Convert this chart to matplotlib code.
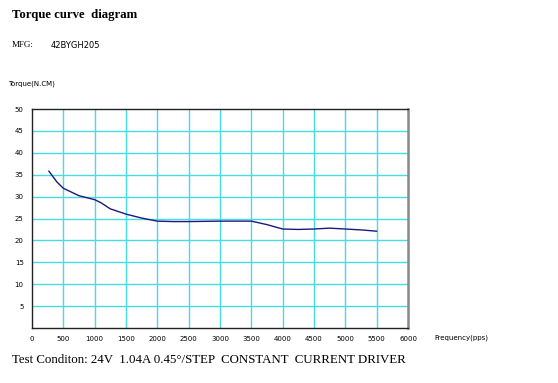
import matplotlib
matplotlib.use("Agg")
import matplotlib.pyplot as plt

freq = [270, 400, 500, 750, 1000, 1100, 1250, 1500, 1750, 2000, 2250, 2500, 3000, 3500, 3750, 4000, 4250, 4500, 4750, 5000, 5250, 5500]
torque = [35.8, 33.3, 31.9, 30.2, 29.3, 28.6, 27.2, 26.0, 25.1, 24.4, 24.3, 24.3, 24.4, 24.4, 23.6, 22.6, 22.5, 22.6, 22.8, 22.6, 22.4, 22.1]
xticks = [0, 500, 1000, 1500, 2000, 2500, 3000, 3500, 4000, 4500, 5000, 5500, 6000]
yticks = [5, 10, 15, 20, 25, 30, 35, 40, 45, 50]

fig = plt.figure(figsize=(5.58, 3.83), dpi=100)
fig.patch.set_facecolor("white")
ax = fig.add_axes([32/558, 1-328/383, 376/558, 219/383])
ax.set_xlim(0, 6000)
ax.set_ylim(0, 50)
for x in xticks[1:-1]:
    ax.axvline(x, color="#45dde3", lw=1.0, zorder=1)
for y in yticks[:-1]:
    ax.axhline(y, color="#45dde3", lw=1.0, zorder=1)
ax.plot(freq, torque, color="#1a1a80", lw=1.0, zorder=3)

ax.set_xticks(xticks)
ax.set_xticklabels([str(v) for v in xticks], fontsize=5, family="DejaVu Sans")
ax.set_yticks(yticks)
ax.set_yticklabels([str(v) for v in yticks], fontsize=5, family="DejaVu Sans")
ax.tick_params(length=0, pad=6)
for s in ["left", "bottom", "top"]:
    ax.spines[s].set_color("#222222")
    ax.spines[s].set_linewidth(1.0)
ax.spines["right"].set_color("#888888")
ax.spines["right"].set_linewidth(1.8)

fig.text(12/558, 1-15/383, "Torque curve  diagram", fontsize=9.2, fontweight="bold",
         family="Liberation Serif", va="center", ha="left")
fig.text(12/558, 1-45/383, "MFG:", fontsize=6.5, family="Liberation Serif", va="center", ha="left")
fig.text(51/558, 1-45/383, "42BYGH205", fontsize=6, family="DejaVu Sans", va="center", ha="left")
fig.text(8/558, 1-84/383, "Torque(N.CM)", fontsize=5, family="DejaVu Sans", va="center", ha="left")
fig.text(434/558, 1-338/383, "Frequency(pps)", fontsize=5, family="DejaVu Sans", va="center", ha="left")
fig.text(12/558, 1-360/383, "Test Conditon: 24V  1.04A 0.45°/STEP  CONSTANT  CURRENT DRIVER",
         fontsize=9.3, family="Liberation Serif", va="center", ha="left")

fig.savefig("out.png", dpi=100, facecolor="white")
